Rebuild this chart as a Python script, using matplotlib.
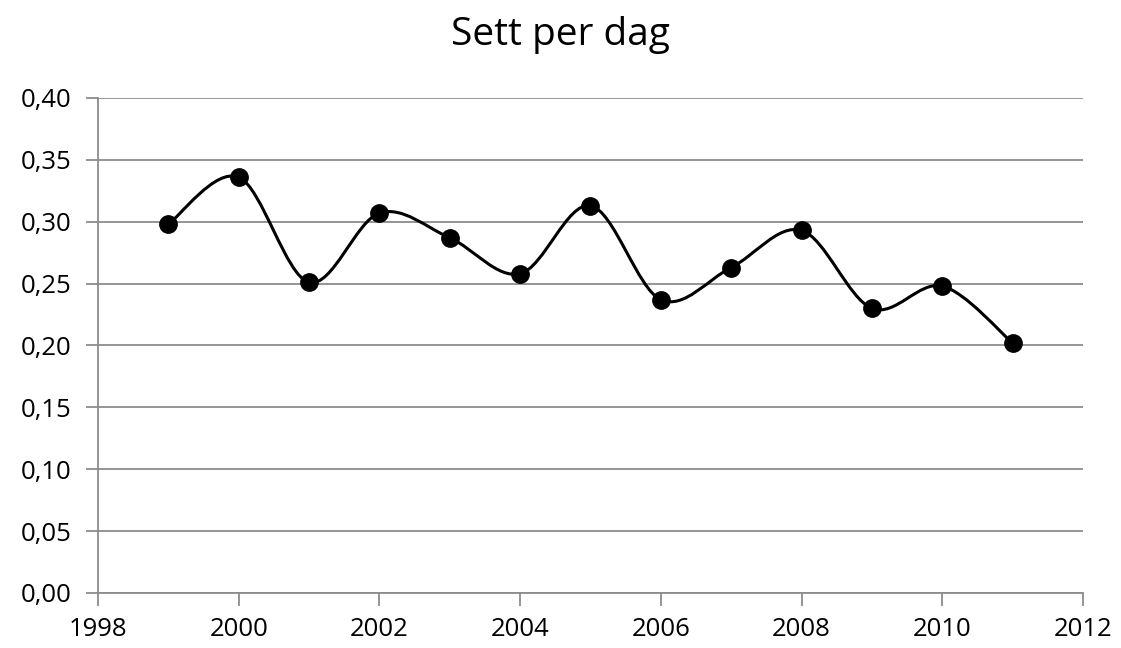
import matplotlib
matplotlib.use("Agg")
import matplotlib.pyplot as plt
from matplotlib.path import Path
from matplotlib.patches import PathPatch
from matplotlib.ticker import FuncFormatter
import numpy as np

plt.rcParams['font.family'] = ['Open Sans', 'DejaVu Sans']

years = [1999, 2000, 2001, 2002, 2003, 2004, 2005, 2006, 2007, 2008, 2009, 2010, 2011]
values = [0.298, 0.336, 0.251, 0.307, 0.287, 0.258, 0.313, 0.237, 0.263, 0.293, 0.230, 0.248, 0.202]
title = "Sett per dag"

fig = plt.figure(figsize=(11.21, 6.48), dpi=100)
ax = fig.add_axes([0.0874, 0.0849, 0.8787, 0.7639])

# smoothed line like Excel (cubic bezier through the points)
pts = np.column_stack([years, values]).astype(float)
n = len(pts)
verts = [tuple(pts[0])]
codes = [Path.MOVETO]
for i in range(n - 1):
    p0 = pts[i - 1] if i > 0 else pts[i]
    p1 = pts[i]
    p2 = pts[i + 1]
    p3 = pts[i + 2] if i + 2 < n else pts[i + 1]
    c1 = p1 + (p2 - p0) / 6.0
    c2 = p2 - (p3 - p1) / 6.0
    verts += [tuple(c1), tuple(c2), tuple(p2)]
    codes += [Path.CURVE4] * 3
patch = PathPatch(Path(verts, codes), facecolor='none', edgecolor='black', lw=2.2, zorder=3)
ax.add_patch(patch)
ax.plot(years, values, 'o', color='black', markersize=12.5, zorder=4)

ax.set_xlim(1998, 2012)
ax.set_ylim(0, 0.40)
ax.set_xticks(range(1998, 2013, 2))
ax.set_yticks(np.arange(0, 0.401, 0.05))
ax.yaxis.set_major_formatter(FuncFormatter(lambda v, p: f"{v:.2f}".replace('.', ',')))

grid_col = '#8c8c8c'
ax.grid(axis='y', color=grid_col, lw=1.3)
ax.set_axisbelow(True)
for s in ['top', 'right']:
    ax.spines[s].set_visible(False)
for s in ['left', 'bottom']:
    ax.spines[s].set_color(grid_col)
    ax.spines[s].set_linewidth(1.3)
ax.tick_params(axis='both', colors=grid_col, width=1.3, length=9, labelsize=18.5, labelcolor='black')
ax.tick_params(axis='y', pad=10)
ax.tick_params(axis='x', pad=8)

fig.text(0.5, 0.946, title, ha='center', va='center', fontsize=28)

fig.savefig('out.png', dpi=100)
